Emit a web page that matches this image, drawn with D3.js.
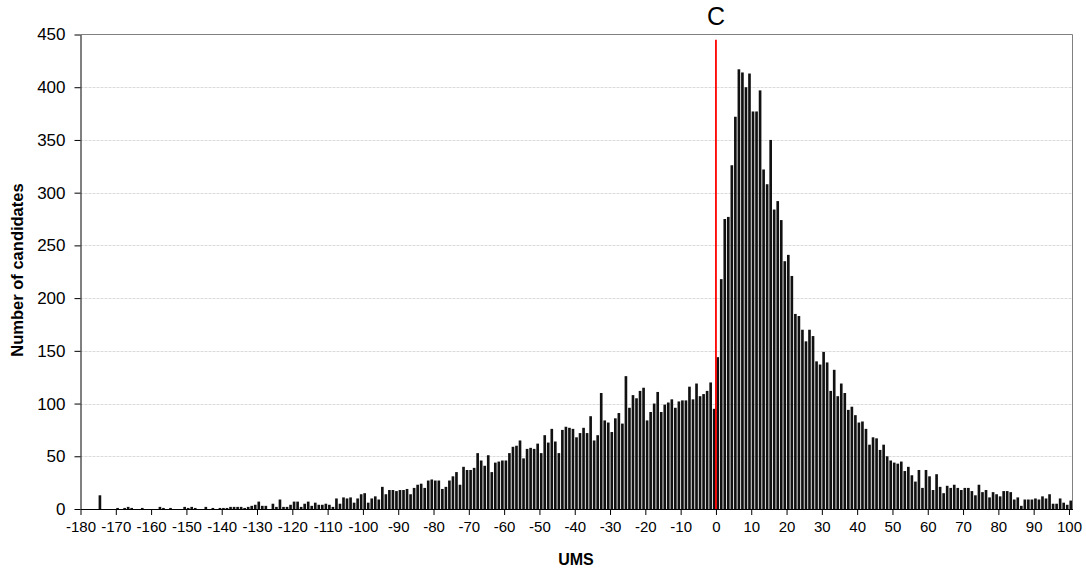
<!DOCTYPE html>
<html>
<head>
<meta charset="utf-8">
<script src="https://cdn.jsdelivr.net/npm/d3@7"></script>
<style>
  body { margin: 0; background: #fff; }
  text { font-family: Arial, "Liberation Sans", sans-serif; fill: #000; }
</style>
</head>
<body>
<div id="chart"></div>
<script>

// UMS bins from -180 to 100, one count per bin
var umsStart = -180,
    umsEnd = 100;

var counts = [
  0, 0, 0, 0, 0, 13, 0, 0, 0, 0,          // -180 .. -171
  1, 0, 1, 2, 1, 0, 0, 1, 0, 0,           // -170 .. -161
  0, 0, 2, 1, 0, 1, 0, 0, 0, 2,           // -160 .. -151
  1, 2, 1, 0, 0, 2, 0, 1, 0, 1,           // -150 .. -141
  1, 1, 2, 2, 2, 2, 1, 2, 3, 4,           // -140 .. -131
  7, 3, 3, 0, 5, 2, 9, 2, 2, 4,           // -130 .. -121
  7, 7, 2, 5, 7, 3, 6, 4, 4, 5,           // -120 .. -111
  4, 2, 10, 5, 11, 10, 11, 6, 10, 14,     // -110 .. -101
  15, 6, 10, 12, 9, 21, 14, 18, 18, 17,   // -100 .. -91
  18, 18, 19, 14, 20, 23, 24, 20, 27, 28, // -90 .. -81
  27, 27, 19, 21, 27, 31, 35, 23, 40, 37, // -80 .. -71
  37, 39, 53, 46, 41, 51, 35, 44, 45, 46, // -70 .. -61
  46, 53, 59, 60, 65, 48, 57, 58, 57, 62, // -60 .. -51
  53, 70, 63, 76, 64, 53, 75, 78, 77, 76, // -50 .. -41
  68, 72, 77, 72, 88, 65, 70, 110, 84, 82, // -40 .. -31
  73, 86, 91, 81, 126, 96, 108, 105, 112, 115, // -30 .. -21
  84, 92, 100, 111, 92, 99, 101, 104, 96, 102, // -20 .. -11
  103, 103, 116, 104, 119, 107, 109, 112, 120, 95, // -10 .. -1
  144, 218, 275, 277, 326, 372, 417, 414, 400, 413, // 0 .. 9
  377, 377, 397, 322, 308, 350, 284, 292, 274, 235, // 10 .. 19
  241, 221, 185, 183, 170, 159, 170, 164, 140, 137, // 20 .. 29
  149, 139, 112, 132, 107, 119, 110, 94, 97, 89,    // 30 .. 39
  82, 83, 76, 61, 68, 67, 56, 61, 50, 46,           // 40 .. 49
  44, 43, 45, 36, 40, 32, 26, 37, 20, 37,           // 50 .. 59
  31, 18, 33, 21, 15, 22, 20, 23, 20, 18,           // 60 .. 69
  20, 20, 17, 13, 23, 16, 18, 11, 16, 14,           // 70 .. 79
  12, 17, 17, 16, 9, 11, 3, 9, 9, 9,                // 80 .. 89
  10, 9, 12, 10, 14, 5, 5, 10, 6, 4,                // 90 .. 99
  8                                                 // 100
];

var ums = d3.range(umsStart, umsEnd + 1);
var xTicks = d3.range(-180, 101, 10);
var yTicks = d3.range(0, 451, 50);

// marker line at the cut point C
var cutValue = 0,
    cutLabel = "C",
    cutTop = 445;

var width = 1086,
    height = 571;

var plotLeft = 80.5,
    plotRight = 1072.5,
    plotTop = 34.5,
    plotBottom = 509;

var svg = d3.select("#chart").append("svg")
  .attr("width", width)
  .attr("height", height);

var y = d3.scaleLinear()
  .domain([0, 450])
  .range([plotBottom, plotTop]);

// bars sit in bands, ticks sit on the band edges
var x = d3.scaleBand()
  .domain(ums)
  .range([plotLeft, plotRight])
  .paddingInner(0.25)
  .paddingOuter(0.125);

var xl = d3.scaleLinear()
  .domain([umsStart, umsEnd + 1])
  .range([plotLeft, plotRight]);

// gridlines
svg.append("g")
  .selectAll("line")
  .data(yTicks.filter(function(d) { return d > 0 && d < 450; }))
  .enter()
  .append("line")
    .attr("x1", plotLeft)
    .attr("x2", plotRight)
    .attr("y1", function(d) { return Math.round(y(d)) + 0.5; })
    .attr("y2", function(d) { return Math.round(y(d)) + 0.5; })
    .attr("stroke", "#dadada")
    .attr("stroke-dasharray", "3,1");

// plot border top and right
svg.append("path")
  .attr("d", "M" + plotLeft + "," + y(450) + "H" + plotRight + "V" + plotBottom)
  .attr("fill", "none")
  .attr("stroke", "#808080")
  .attr("stroke-width", 1);

// bars
svg.append("g")
  .selectAll("rect")
  .data(counts)
  .enter()
  .append("rect")
    .attr("x", function(d, i) { return x(ums[i]); })
    .attr("width", x.bandwidth())
    .attr("y", function(d) { return y(d); })
    .attr("height", function(d) { return y(0) - y(d); })
    .attr("fill", "#111");

// cut line
svg.append("line")
  .attr("x1", xl(cutValue))
  .attr("x2", xl(cutValue))
  .attr("y1", y(cutTop))
  .attr("y2", y(0))
  .attr("stroke", "#ff0000")
  .attr("stroke-width", 1.8);

svg.append("text")
  .attr("x", xl(cutValue))
  .attr("y", 25)
  .attr("text-anchor", "middle")
  .style("font-size", "25px")
  .text(cutLabel);

// axes, plain hyphen for negatives like the original
var xAxis = svg.append("g")
  .attr("transform", "translate(0," + plotBottom + ")")
  .call(d3.axisBottom(xl)
    .tickValues(xTicks)
    .tickSize(6)
    .tickSizeOuter(0)
    .tickPadding(6)
    .tickFormat(function(d) { return String(d); }));

xAxis.selectAll("text").style("font-size", "15px");
xAxis.select(".domain").attr("stroke", "#000");

var yAxis = svg.append("g")
  .attr("transform", "translate(" + plotLeft + ",0)")
  .call(d3.axisLeft(y)
    .tickValues(yTicks)
    .tickSize(6)
    .tickSizeOuter(0)
    .tickPadding(9));

yAxis.selectAll("text").style("font-size", "17px");
yAxis.select(".domain").attr("stroke", "#000");

// titles
svg.append("text")
  .attr("x", 576)
  .attr("y", 565)
  .attr("text-anchor", "middle")
  .style("font-size", "16px")
  .style("font-weight", "bold")
  .text("UMS");

svg.append("text")
  .attr("transform", "translate(23,270) rotate(-90)")
  .attr("text-anchor", "middle")
  .style("font-size", "16.5px")
  .style("font-weight", "bold")
  .text("Number of candidates");

</script>
</body>
</html>
